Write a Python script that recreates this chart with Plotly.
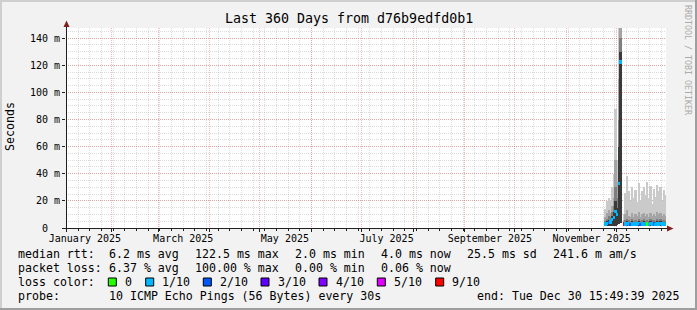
import plotly.graph_objects as go
import pandas as pd

# ---------------- data ----------------
TITLE = "Last 360 Days from d76b9edfd0b1"
RANGE_START = "2025-01-04 15:49:39"
RANGE_END = "2025-12-30 15:49:39"

# one column per day, Nov 24 .. Dec 30 2025 (centres at noon)
day_centers = pd.date_range("2025-11-24 12:00", periods=37, freq="D")

# smoke (ms): sorted ping values per column
ping_max = [14, 20, 22, 21, 30, 40, 88,
            50, 148, 148, None, 10, 26, 38, 27, 20, 30, 22, 28, 19, 33, 21, 27, 30,
            24, 34, 22, 31, 18, 29, 23, 32, 27, 30, 20, 28, 24]
ping_9 = [8, 11, 13, 11, 16, 22, 50,
          34, 110, 148, None, 6, 10, 13, 9, 8, 11, 8, 10, 9, 12, 8, 10, 11,
          9, 10, 8, 11, 9, 10, 9, 12, 10, 11, 9, 10, 9]
ping_8 = [5, 7, 9, 8, 12, 16, 30,
          22, 80, 140, None, 4.5, 6, 7, 6, 5.5, 7, 5.5, 6, 5.5, 7, 5.5, 6, 7,
          5.5, 6, 5.5, 7, 6, 6, 5.5, 7, 6, 7, 6, 6, 5.5]
ping_7 = [4, 5, 6, 6, 9, 12, 20,
          15, 60, 130, None, 3.5, 4.5, 5, 4.5, 4, 5, 4, 4.5, 4, 5, 4, 4.5, 5,
          4, 4.5, 4, 5, 4.5, 4.5, 4, 5, 4.5, 5, 4.5, 4.5, 4]
ping_min = [1.5, 1.5, 1.5, 1.5, 1.5, 1.5, 1.5,
            2, 3, 4, None, 2, 1.5, 1.5, 1.5, 1.5, 1.5, 1.5, 1.5, 1.5, 1.5, 1.5, 1.5, 1.5,
            1.5, 1.5, 1.5, 1.5, 1.5, 1.5, 1.5, 1.5, 1.5, 1.5, 1.5, 1.5, 1.5]
median_rtt = [3, 3.5, 4, 4.5, 6, 8, 12,
              10, 33, 122.5, None, 3, 3, 3.5, 3, 2.5, 3, 2.5, 3, 3, 3.5, 2.5, 3, 3,
              2.5, 3, 2.5, 3.5, 3, 3, 2.5, 3, 3, 3.5, 3, 3, 2.5]
loss_count = [1, 1, 2, 1, 1, 1, 1,
              1, 1, 1, None, 9, 1, 1, 1, 2, 1, 1, 1, 1, 1, 2, 1, 1,
              1, 0, 1, 1, 1, 2, 1, 1, 1, 1, 1, 1, 1]

month_starts = list(pd.date_range("2025-02-01", "2025-12-01", freq="MS"))
label_dates = ["2025-01-16", "2025-03-16", "2025-05-16", "2025-07-16", "2025-09-16", "2025-11-16"]
label_text = ["January 2025", "March 2025", "May 2025", "July 2025", "September 2025", "November 2025"]
y_ticks = [0, 20, 40, 60, 80, 100, 120, 140]
y_ticktext = ["0\u00a0\u00a0", "20 m", "40 m", "60 m", "80 m", "100 m", "120 m", "140 m"]

rtt_legend = ["6.2 ms avg", "122.5 ms max", "2.0 ms min", "4.0 ms now", "25.5 ms sd", "241.6 m am/s"]
loss_legend = ["6.37 % avg", "100.00 % max", "0.00 % min", "0.06 % now"]
loss_levels = [0, 1, 2, 3, 4, 5, 9]
loss_labels = ["0", "1/10", "2/10", "3/10", "4/10", "5/10", "9/10"]
probe_text = "10 ICMP Echo Pings (56 Bytes) every 30s"
end_text = "end: Tue Dec 30 15:49:39 2025"

# ---------------- style ----------------
LOSS_COLORS = {0: "#26ff00", 1: "#00b8ff", 2: "#0059ff", 3: "#5e00ff",
               4: "#7e00ff", 5: "#dd00ff", 9: "#ff0000"}
SMOKE = ["#cacaca", "#a4a4a4", "#7e7e7e", "#3a3a3a"]
MONO = "DejaVu Sans Mono"
W, H = 697, 310
L, R, T, B = 66, 666, 28, 228
DAY_MS = 86400000


def px(x):
    return (x - L) / (R - L)


def py(y):
    return (B - y) / (B - T)


fig = go.Figure()

tops = [ping_max, ping_9, ping_8, ping_7]
for top, col in zip(tops, SMOKE):
    heights = [None if (t is None or b is None) else t - b for t, b in zip(top, ping_min)]
    fig.add_trace(go.Bar(x=day_centers, y=heights, base=ping_min, width=DAY_MS,
                         marker=dict(color=col, line=dict(width=0)),
                         hoverinfo="skip", showlegend=False))

MED_T = 2.4
med_base = [None if m is None else m - MED_T / 2 for m in median_rtt]
med_h = [None if m is None else MED_T for m in median_rtt]
med_col = [LOSS_COLORS[l] if l is not None else "#000000" for l in loss_count]
fig.add_trace(go.Bar(x=day_centers, y=med_h, base=med_base, width=DAY_MS,
                     marker=dict(color=med_col, line=dict(width=0)),
                     xaxis="x2", yaxis="y",
                     hoverinfo="skip", showlegend=False))

GRID_MINOR = "rgba(143,143,143,0.32)"
GRID_MAJOR = "rgba(222,79,79,0.38)"
AXIS_COL = "#1f1f1f"
ARROW_COL = "#801f1f"

fig.update_layout(
    width=W, height=H,
    margin=dict(l=L, r=W - R, t=T, b=H - B, pad=0),
    paper_bgcolor="#f2f2f2", plot_bgcolor="#ffffff",
    barmode="overlay", bargap=0,
    showlegend=False,
    font=dict(family=MONO, color="#000000", size=10),
    xaxis=dict(type="date", range=[RANGE_START, RANGE_END],
               tickmode="array", tickvals=month_starts, showticklabels=False,
               showgrid=True, gridcolor=GRID_MAJOR, griddash="1px,1px", gridwidth=1,
               ticks="outside", ticklen=3, tickcolor=AXIS_COL,
               minor=dict(tick0="2025-01-05", dtick=7 * DAY_MS, showgrid=True,
                          gridcolor=GRID_MINOR, griddash="1px,1px", gridwidth=1,
                          ticks="outside", ticklen=2, tickcolor=AXIS_COL),
               showline=False, zeroline=False, fixedrange=True),
    xaxis2=dict(type="date", range=[RANGE_START, RANGE_END], overlaying="x", anchor="y",
                side="bottom", tickmode="array", tickvals=label_dates, ticktext=label_text,
                showgrid=False, ticks="", showline=False, zeroline=False,
                ticklabelstandoff=3,
                tickfont=dict(family=MONO, size=10, color="#000000"), fixedrange=True),
    yaxis=dict(range=[0, 147.5], tickmode="array", tickvals=y_ticks, ticktext=y_ticktext,
               showgrid=True, gridcolor=GRID_MAJOR, griddash="1px,1px", gridwidth=1,
               ticks="outside", ticklen=3, tickcolor=AXIS_COL,
               minor=dict(dtick=5, showgrid=True, gridcolor=GRID_MINOR,
                          griddash="1px,1px", gridwidth=1),
               tickfont=dict(family=MONO, size=10, color="#000000"),
               showline=False, zeroline=False, fixedrange=True),
)

shapes = []
# 3D border
shapes.append(dict(type="rect", xref="paper", yref="paper", x0=px(0), x1=px(W), y0=py(0), y1=py(2),
                   fillcolor="#cfcfcf", line=dict(width=0), layer="above"))
shapes.append(dict(type="rect", xref="paper", yref="paper", x0=px(0), x1=px(2), y0=py(0), y1=py(H),
                   fillcolor="#cfcfcf", line=dict(width=0), layer="above"))
shapes.append(dict(type="rect", xref="paper", yref="paper", x0=px(0), x1=px(W), y0=py(H - 2), y1=py(H),
                   fillcolor="#9e9e9e", line=dict(width=0), layer="above"))
shapes.append(dict(type="rect", xref="paper", yref="paper", x0=px(W - 2), x1=px(W), y0=py(0), y1=py(H),
                   fillcolor="#9e9e9e", line=dict(width=0), layer="above"))
# axes lines + arrows
shapes.append(dict(type="line", xref="paper", yref="paper", x0=px(62), x1=px(668), y0=py(228.5), y1=py(228.5),
                   line=dict(color=AXIS_COL, width=1), layer="above"))
shapes.append(dict(type="line", xref="paper", yref="paper", x0=px(66.5), x1=px(66.5), y0=py(232), y1=py(25),
                   line=dict(color=AXIS_COL, width=1), layer="above"))
shapes.append(dict(type="path", xref="paper", yref="paper",
                   path=f"M {px(667)} {py(225.5)} L {px(673.5)} {py(228.5)} L {px(667)} {py(231.5)} Z",
                   fillcolor=ARROW_COL, line=dict(width=0), layer="above"))
shapes.append(dict(type="path", xref="paper", yref="paper",
                   path=f"M {px(63.5)} {py(27)} L {px(66.5)} {py(20.5)} L {px(69.5)} {py(27)} Z",
                   fillcolor=ARROW_COL, line=dict(width=0), layer="above"))

ann = []
LEG = 11.6


def text(x, y, s, size=LEG, xanchor="left", color="#000000", angle=0):
    ann.append(dict(x=px(x), y=py(y), xref="paper", yref="paper", text=s, showarrow=False,
                    xanchor=xanchor, yanchor="middle", textangle=angle,
                    font=dict(family=MONO, size=size, color=color)))


text(348.5, 18.5, TITLE, size=13.3, xanchor="center")
text(10, 127, "Seconds", size=11.6, xanchor="center", angle=-90)
text(688, 60, "RRDTOOL / TOBI OETIKER", size=8.3, xanchor="center", color="#ababab", angle=90)

col_x = [107, 193, 293, 379, 465, 551]
text(15.5, 254, "median rtt:")
for xx, s in zip(col_x, rtt_legend):
    text(xx, 254, s)
text(15.5, 268, "packet loss:")
for xx, s in zip(col_x, loss_legend):
    text(xx, 268, s)
text(15.5, 282, "loss color:")
box_x = [108.3, 145.7, 203.3, 261, 319, 377.3, 435.7]
for bx, lvl, lab in zip(box_x, loss_levels, loss_labels):
    shapes.append(dict(type="rect", xref="paper", yref="paper", x0=px(bx), x1=px(bx + 8), y0=py(278), y1=py(286),
                       fillcolor=LOSS_COLORS[lvl], line=dict(color="#000000", width=1), layer="above"))
    text(bx + 14.5, 282, lab)
text(15.5, 296, "probe:")
text(107, 296, probe_text)
text(681, 296, end_text, xanchor="right")

fig.update_layout(shapes=shapes, annotations=ann)
fig.write_html("out.html")
